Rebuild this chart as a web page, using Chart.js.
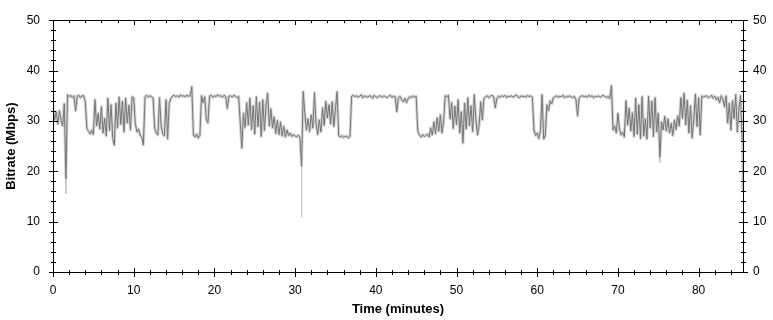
<!DOCTYPE html>
<html>
<head>
<meta charset="utf-8">
<title>Bitrate</title>
<script src="https://cdn.jsdelivr.net/npm/chart.js@4.4.1/dist/chart.umd.min.js"></script>
<style>
  html, body { margin: 0; padding: 0; background: #fff; }
  canvas { display: block; }
</style>
</head>
<body>
<canvas id="myChart" width="773" height="320"></canvas>
<script>
const sampleStep = 0.2;
const bitrate = [
  32.5, 30.2, 31.8, 29.4, 32.0,
  30.1, 29.0, 33.4, 18.5, 35.2,
  34.8, 35.1, 34.6, 35.0, 32.0,
  34.9, 35.1, 34.6, 35.0, 35.0,
  33.8, 28.5, 27.9, 27.4, 28.2,
  27.3, 34.2, 29.0, 31.5, 28.4,
  32.8, 27.6, 30.5, 27.0, 34.5,
  28.1, 33.2, 26.5, 25.2, 33.5,
  28.6, 34.7, 29.3, 33.9, 27.8,
  34.5, 29.6, 33.1, 28.2, 34.8,
  34.6, 29.5, 27.8, 28.4, 27.2,
  26.8, 25.2, 34.8, 35.1, 34.7,
  35.0, 34.8, 34.6, 28.5, 27.6,
  27.2, 34.6, 29.0, 27.4, 27.0,
  34.2, 26.4, 33.5, 34.4, 34.9,
  35.1, 34.8, 35.0, 34.7, 35.2,
  34.9, 35.0, 34.8, 35.1, 34.9,
  35.0, 36.8, 27.2, 26.8, 27.4,
  26.6, 27.1, 35.0, 33.6, 34.8,
  30.2, 29.6, 34.9, 35.1, 34.7,
  35.0, 34.8, 35.2, 34.9, 35.0,
  34.7, 35.1, 34.8, 32.5, 34.9,
  35.0, 34.7, 35.1, 34.9, 34.6,
  34.9, 29.8, 24.6, 31.5, 28.7,
  33.6, 29.2, 34.5, 28.3, 33.0,
  27.4, 34.8, 28.9, 33.7, 26.9,
  34.2, 28.1, 33.1, 35.5, 29.0,
  32.4, 28.6, 30.8, 27.5, 30.1,
  27.3, 29.8, 27.0, 28.9, 26.8,
  28.2, 27.1, 27.6, 26.9, 27.3,
  27.0, 26.8, 27.2, 26.7, 21.0,
  35.8, 31.6, 28.2, 30.4, 27.9,
  31.2, 28.6, 35.6, 29.4, 27.3,
  30.2, 27.8, 32.6, 29.1, 33.9,
  30.6, 33.2, 29.4, 33.8, 28.9,
  32.5, 35.8, 27.0, 26.8, 27.1,
  26.7, 26.9, 27.0, 26.6, 26.9,
  34.9, 35.1, 34.8, 35.0, 34.7,
  34.9, 35.2, 34.6, 35.0, 34.8,
  34.7, 35.0, 34.9, 34.5, 35.1,
  34.8, 34.6, 35.0, 34.9, 34.7,
  35.0, 34.8, 34.6, 34.9, 35.1,
  34.7, 34.9, 34.8, 31.8, 34.6,
  34.9, 34.2, 33.8, 34.5, 33.6,
  34.4, 34.8, 34.6, 35.0, 34.7,
  34.9, 28.0, 27.2, 26.8, 27.3,
  26.9, 27.1, 27.4, 26.8, 28.6,
  27.2, 29.8, 27.5, 30.6, 28.0,
  31.2, 27.6, 29.8, 35.0, 34.8,
  35.1, 30.4, 33.6, 28.5, 32.9,
  29.3, 34.2, 27.6, 31.8, 25.6,
  33.5, 28.4, 34.6, 29.1, 33.0,
  27.9, 35.2, 30.3, 27.2, 29.1,
  33.8, 30.2, 34.5, 34.8, 35.0,
  34.6, 34.9, 35.1, 34.8, 32.6,
  34.4, 34.9, 34.7, 35.0, 34.8,
  35.1, 34.6, 34.9, 34.8, 35.0,
  34.7, 34.9, 35.2, 34.8, 34.6,
  35.0, 34.8, 34.9, 34.7, 35.1,
  34.8, 35.0, 34.7, 28.2, 27.1,
  27.6, 26.5, 28.1, 35.2, 26.4,
  27.0, 33.2, 32.0, 34.0, 33.4,
  34.6, 34.8, 35.0, 34.7, 34.9,
  34.8, 35.1, 34.6, 34.9, 34.7,
  35.0, 34.8, 34.6, 34.9, 34.2,
  31.0, 34.6, 34.9, 35.0, 34.8,
  34.9, 34.7, 35.1, 34.8, 35.0,
  34.6, 34.9, 34.8, 35.0, 34.7,
  34.9, 35.1, 34.8, 34.6, 34.9,
  34.4, 37.0, 28.2, 29.0, 27.6,
  31.5, 28.3, 27.2, 27.8, 26.8,
  34.0, 29.2, 32.5, 28.0, 31.6,
  26.9, 34.5, 27.4, 33.2, 26.5,
  34.8, 27.0, 30.4, 26.4, 34.9,
  28.6, 33.9, 26.9, 34.6, 27.8,
  31.5, 22.8, 29.8, 28.2, 30.9,
  28.0, 30.4, 27.6, 29.5, 27.1,
  30.2, 28.3, 31.0, 29.0, 34.6,
  30.5, 35.5, 29.2, 34.1, 27.6,
  33.0, 26.6, 30.3, 35.3, 28.9,
  34.6, 27.2, 35.0, 34.7, 34.9,
  35.0, 34.6, 34.8, 35.1, 34.5,
  34.9, 34.2, 34.7, 33.6, 35.0,
  34.4, 32.8, 35.0, 29.6, 33.5,
  28.2, 34.0, 30.5, 35.2, 27.8,
  32.6, 35.0, 26.0
];

// short dropouts that only show in the light trace
const spikeTimes = [1.6, 30.8, 75.2, 85.4];
const spikeLows = [15.5, 10.9, 21.7, 16.2];

const xMax = 85.5;
const yMax = 50;

const mainPoints = bitrate.map((v, i) => ({ x: +(i * sampleStep).toFixed(1), y: v }));
const spikePoints = [];
spikeTimes.forEach((t, i) => {
    spikePoints.push({ x: t, y: bitrate[Math.round(t / sampleStep)] });
    spikePoints.push({ x: t, y: spikeLows[i] });
    spikePoints.push({ x: t, y: null });
});

const FONT = "'Liberation Sans', Arial, sans-serif";

// frame and tick marks, drawn by hand so they can cross the axis lines
const framePlugin = {
    id: 'frame',
    afterDraw(chart) {
        const c = chart.ctx;
        const a = chart.chartArea;
        const xs = chart.scales.x;
        const ys = chart.scales.y;
        c.save();
        c.strokeStyle = '#000';
        c.lineWidth = 1;
        c.beginPath();
        c.rect(Math.round(a.left) + 0.5, Math.round(a.top) + 0.5,
               Math.round(a.right - a.left), Math.round(a.bottom - a.top));
        for (let t = 0; t <= xMax; t += 2) {
            const px = Math.round(xs.getPixelForValue(t)) + 0.5;
            const len = t % 10 === 0 ? 4 : 2;
            c.moveTo(px, a.bottom - len); c.lineTo(px, a.bottom + len + 1);
            c.moveTo(px, a.top); c.lineTo(px, a.top + len + 1);
        }
        for (let v = 0; v <= yMax; v += 2) {
            const py = Math.round(ys.getPixelForValue(v)) + 0.5;
            const len = v % 10 === 0 ? 4 : 2;
            c.moveTo(a.left - len, py); c.lineTo(a.left + len + 1, py);
            c.moveTo(a.right - len, py); c.lineTo(a.right + len + 1, py);
        }
        c.stroke();
        c.restore();
    }
};

const ctx = document.getElementById('myChart').getContext('2d');
const myChart = new Chart(ctx, {
    type: 'line',
    data: {
        datasets: [{
            label: 'Bitrate',
            data: mainPoints,
            borderColor: '#777777',
            borderWidth: 1,
            pointRadius: 0,
            order: 0
        }, {
            label: 'Bitrate range',
            data: mainPoints,
            borderColor: '#d2d2d2',
            borderWidth: 3,
            borderJoinStyle: 'round',
            borderCapStyle: 'round',
            pointRadius: 0,
            order: 1
        }, {
            label: 'Dropouts',
            data: spikePoints,
            borderColor: '#c4c4c4',
            borderWidth: 1,
            pointRadius: 0,
            spanGaps: false,
            order: 2
        }]
    },
    options: {
        responsive: false,
        animation: false,
        devicePixelRatio: 1,
        layout: { padding: { top: 10, left: 0, right: 0, bottom: 0 } },
        plugins: { legend: { display: false }, tooltip: { enabled: false } },
        elements: { line: { tension: 0 } },
        scales: {
            x: {
                type: 'linear',
                min: 0,
                max: xMax,
                grid: { display: false, drawTicks: false },
                border: { display: false },
                ticks: {
                    stepSize: 10,
                    padding: 11,
                    color: '#000',
                    font: { family: FONT, size: 12 },
                    maxRotation: 0,
                    callback: (v) => (v % 10 === 0 ? v : null)
                },
                title: {
                    display: true,
                    text: 'Time (minutes)',
                    color: '#000',
                    font: { family: FONT, size: 13, weight: 'bold' },
                    padding: { top: 0, bottom: 3 }
                },
                afterFit(scale) { scale.height = 48; }
            },
            y: {
                position: 'left',
                min: 0,
                max: yMax,
                grid: { display: false, drawTicks: false },
                border: { display: false },
                ticks: {
                    stepSize: 10,
                    padding: 13,
                    color: '#000',
                    font: { family: FONT, size: 12 }
                },
                title: {
                    display: true,
                    text: 'Bitrate (Mbps)',
                    color: '#000',
                    font: { family: FONT, size: 13, weight: 'bold' },
                    padding: { top: 4, bottom: 0 }
                },
                afterFit(scale) { scale.width = 53; }
            },
            y2: {
                position: 'right',
                min: 0,
                max: yMax,
                grid: { display: false, drawTicks: false },
                border: { display: false },
                ticks: {
                    stepSize: 10,
                    padding: 10,
                    color: '#000',
                    font: { family: FONT, size: 12 }
                },
                afterFit(scale) { scale.width = 30; }
            }
        }
    },
    plugins: [framePlugin]
});
</script>
</body>
</html>
